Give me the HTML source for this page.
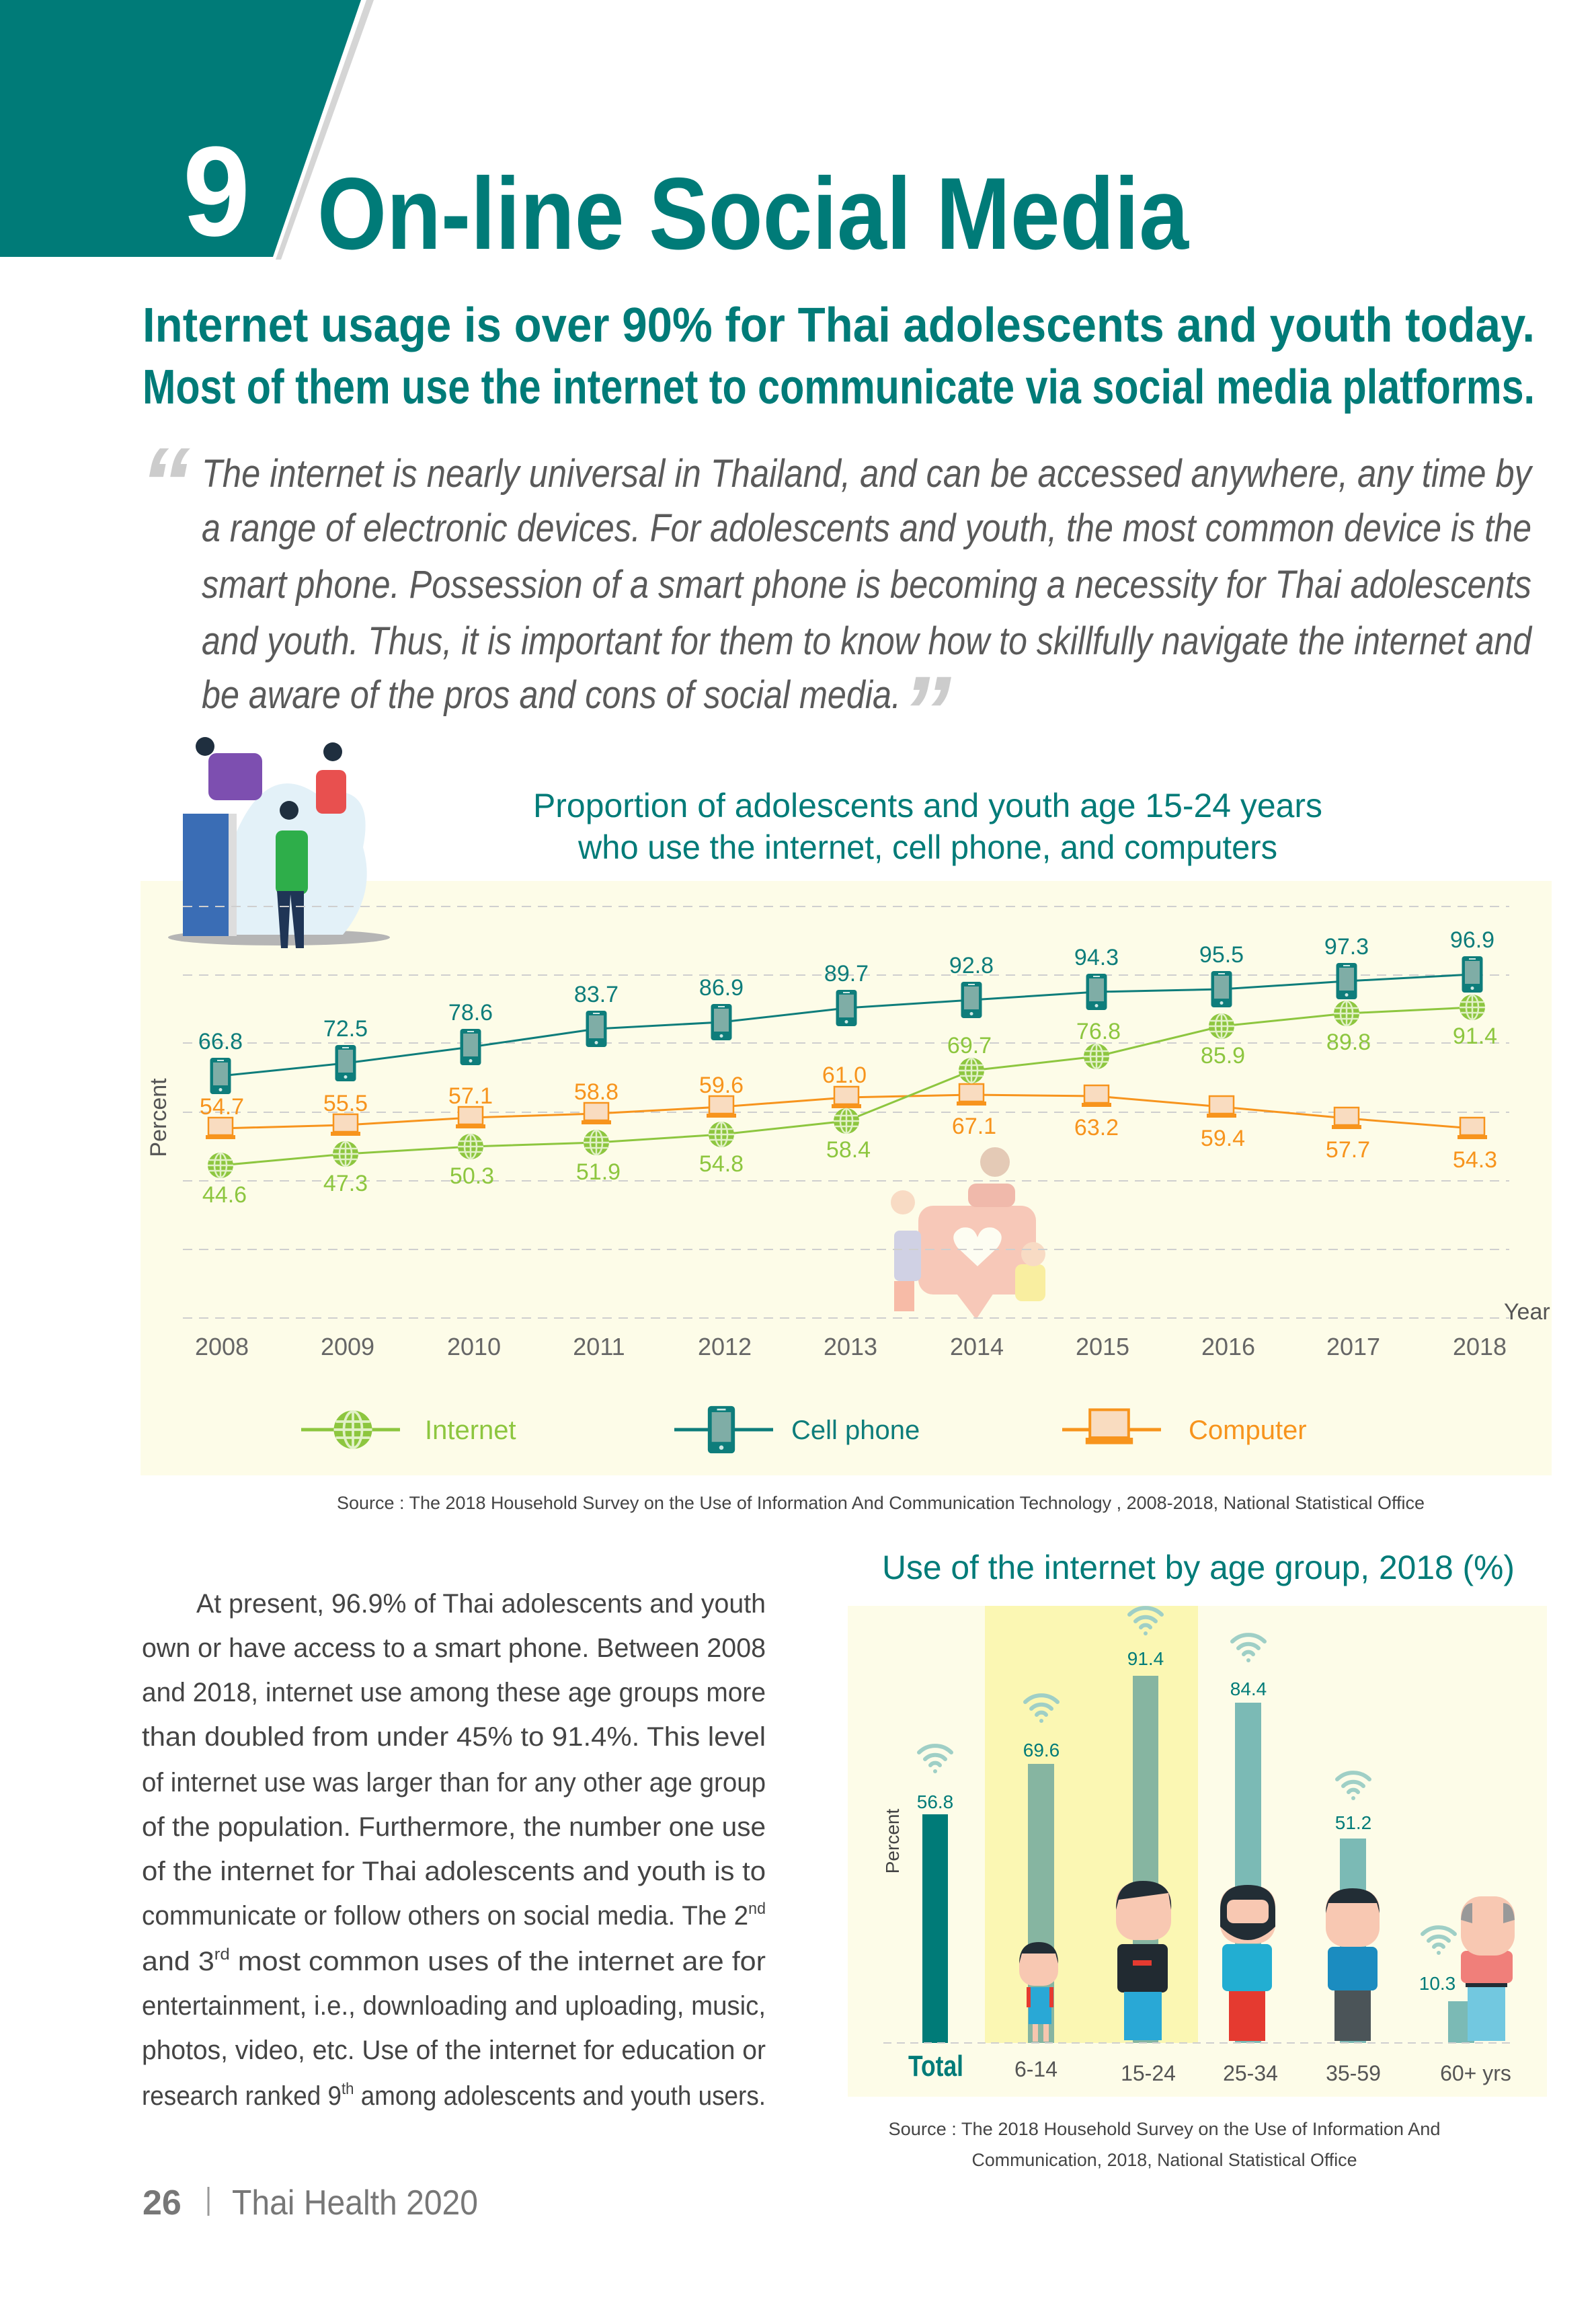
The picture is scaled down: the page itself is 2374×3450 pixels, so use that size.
<!DOCTYPE html>
<html><head><meta charset="utf-8"><style>
html,body{margin:0;padding:0;background:#fff;}
svg{display:block;}
text{font-family:"Liberation Sans",sans-serif;}
</style></head><body>
<svg width="2374" height="3450" viewBox="0 0 2374 3450" xmlns="http://www.w3.org/2000/svg">
<defs>
<g id="phone"><rect x="-15.5" y="-27" width="31" height="54" rx="4" fill="#0e7d7b"/><rect x="-11" y="-20" width="22" height="34" fill="#7fada6"/><circle cx="0" cy="20.5" r="2.5" fill="#cfe8e4"/><rect x="-5" y="-24" width="10" height="2" fill="#cfe8e4"/></g>
<g id="comp"><rect x="-18" y="-16" width="36" height="26" fill="#f9dcc0" stroke="#f7941d" stroke-width="2.5"/><rect x="-22" y="10" width="44" height="6" fill="#f7941d"/></g>
<g id="globe"><circle r="19" fill="#8dc63f"/><ellipse rx="9" ry="18" fill="none" stroke="#e2f1c8" stroke-width="2.5"/><line x1="0" y1="-19" x2="0" y2="19" stroke="#e2f1c8" stroke-width="2.5"/><line x1="-17" y1="-8" x2="17" y2="-8" stroke="#e2f1c8" stroke-width="2.5"/><line x1="-19" y1="0" x2="19" y2="0" stroke="#e2f1c8" stroke-width="2.5"/><line x1="-17" y1="8" x2="17" y2="8" stroke="#e2f1c8" stroke-width="2.5"/></g>
<g id="wifi" fill="none" stroke="#9fcfc6" stroke-width="6" stroke-linecap="round"><path d="M-24,-14 A34,34 0 0 1 24,-14"/><path d="M-15,-4 A21,21 0 0 1 15,-4"/><path d="M-7,5 A9,9 0 0 1 7,5"/><circle cx="0" cy="14" r="3" fill="#9fcfc6" stroke="none"/></g>
</defs>

<!-- header -->
<polygon points="545,0 556,0 418,386 410,386" fill="#d5d5d5"/>
<polygon points="0,0 537,0 406,382 0,382" fill="#007b78"/>
<text x="272" y="350" font-size="190" fill="#fff" font-weight="bold" textLength="100" lengthAdjust="spacingAndGlyphs">9</text>
<text x="472" y="370" font-size="152" fill="#007b78" font-weight="bold" textLength="1296" lengthAdjust="spacingAndGlyphs">On-line Social Media</text>

<text x="212" y="508" font-size="72" fill="#007b78" font-weight="bold" textLength="2071" lengthAdjust="spacingAndGlyphs">Internet usage is over 90% for Thai adolescents and youth today.</text>
<text x="212" y="600" font-size="72" fill="#007b78" font-weight="bold" textLength="2071" lengthAdjust="spacingAndGlyphs">Most of them use the internet to communicate via social media platforms.</text>

<text x="208" y="770" font-size="150" fill="#cccccc" font-style="italic" font-weight="bold">“</text>
<g font-size="58" fill="#5a5a5a" font-style="italic">
<text x="300" y="724" textLength="1978" lengthAdjust="spacingAndGlyphs">The internet is nearly universal in Thailand, and can be accessed anywhere, any time by</text>
<text x="300" y="805" textLength="1978" lengthAdjust="spacingAndGlyphs">a range of electronic devices. For adolescents and youth, the most common device is the</text>
<text x="300" y="889" textLength="1978" lengthAdjust="spacingAndGlyphs">smart phone. Possession of a smart phone is becoming a necessity for Thai adolescents</text>
<text x="300" y="973" textLength="1978" lengthAdjust="spacingAndGlyphs">and youth. Thus, it is important for them to know how to skillfully navigate the internet and</text>
<text x="300" y="1053" textLength="1040" lengthAdjust="spacingAndGlyphs">be aware of the pros and cons of social media.</text>
</g>
<text x="1340" y="1110" font-size="150" fill="#cccccc" font-style="italic" font-weight="bold">”</text>

<!-- line chart panel -->
<rect x="209" y="1310" width="2099" height="884" fill="#fdfce8"/>
<!-- illustration top-left -->
<ellipse cx="415" cy="1394" rx="165" ry="12" fill="#b5b5b5"/>
<path d="M330,1300 Q380,1120 470,1180 Q560,1160 540,1260 Q560,1330 510,1390 L330,1390 Z" fill="#e3f1f8"/>
<rect x="272" y="1210" width="68" height="182" fill="#3a6db5"/>
<rect x="340" y="1210" width="12" height="182" fill="#dddddd"/>
<rect x="410" y="1235" width="48" height="95" fill="#2eae4a" rx="10"/>
<path d="M412,1325 L418,1410 L428,1410 L432,1330 L440,1410 L452,1410 L452,1325 Z" fill="#1f3556"/>
<circle cx="430" cy="1205" r="14" fill="#1f2f3f"/>
<rect x="310" y="1120" width="80" height="70" fill="#7d4fb0" rx="12"/>
<circle cx="305" cy="1110" r="14" fill="#1f2f3f"/>
<rect x="470" y="1145" width="45" height="65" fill="#e8504f" rx="10"/>
<circle cx="495" cy="1118" r="14" fill="#1f2f3f"/>

<!-- heart illustration faded -->
<g opacity="0.45">
<rect x="1366" y="1793" width="175" height="132" rx="22" fill="#f08a80"/>
<polygon points="1420,1920 1480,1920 1452,1962" fill="#f08a80"/>
<path d="M1454,1883 L1424,1855 Q1410,1835 1430,1826 Q1448,1822 1454,1840 Q1460,1822 1478,1826 Q1498,1835 1484,1855 Z" fill="#fff"/>
<rect x="1330" y="1830" width="40" height="75" fill="#9a9fe0" rx="8"/>
<circle cx="1343" cy="1788" r="18" fill="#f3b49a"/>
<rect x="1330" y="1905" width="30" height="45" fill="#f06e5a"/>
<rect x="1510" y="1880" width="45" height="55" fill="#f6de4b" rx="10"/>
<circle cx="1537" cy="1865" r="18" fill="#f3b49a"/>
<circle cx="1480" cy="1728" r="22" fill="#c78e7a"/>
<rect x="1440" y="1760" width="70" height="35" fill="#e26a62" rx="12"/>
</g>

<!-- gridlines -->
<g stroke="#cfcfcf" stroke-width="2" stroke-dasharray="14,10">
<line x1="272" y1="1348" x2="2245" y2="1348"/>
<line x1="272" y1="1450" x2="2245" y2="1450"/>
<line x1="272" y1="1551" x2="2245" y2="1551"/>
<line x1="272" y1="1654" x2="2245" y2="1654"/>
<line x1="272" y1="1756" x2="2245" y2="1756"/>
<line x1="272" y1="1858" x2="2245" y2="1858"/>
<line x1="272" y1="1960" x2="2245" y2="1960"/>
</g>

<text x="1380" y="1215" font-size="50" fill="#007b78" text-anchor="middle" textLength="1174" lengthAdjust="spacingAndGlyphs">Proportion of adolescents and youth age 15-24 years</text>
<text x="1380" y="1277" font-size="50" fill="#007b78" text-anchor="middle" textLength="1040" lengthAdjust="spacingAndGlyphs">who use the internet, cell phone, and computers</text>

<text transform="translate(247,1662) rotate(-90)" font-size="34" fill="#555" text-anchor="middle">Percent</text>
<text x="2237" y="1962" font-size="34" fill="#555">Year</text>

<!-- series lines -->
<polyline fill="none" stroke="#f7941d" stroke-width="3" points="328,1678 514,1673 700,1662 887,1656 1073,1646 1259,1632 1445,1628 1631,1630 1817,1646 2003,1663 2190,1678"/>
<polyline fill="none" stroke="#8dc63f" stroke-width="3" points="328,1733 514,1716 700,1705 887,1699 1073,1687 1259,1667 1445,1592 1631,1571 1817,1526 2003,1507 2190,1498"/>
<polyline fill="none" stroke="#0e7d7b" stroke-width="3" points="328,1600 514,1581 700,1557 887,1530 1073,1520 1259,1499 1445,1487 1631,1475 1817,1471 2003,1459 2190,1449"/>

<!-- markers -->
<use href="#comp" x="328" y="1678"/><use href="#comp" x="514" y="1673"/><use href="#comp" x="700" y="1662"/><use href="#comp" x="887" y="1656"/><use href="#comp" x="1073" y="1646"/><use href="#comp" x="1259" y="1632"/><use href="#comp" x="1445" y="1628"/><use href="#comp" x="1631" y="1630"/><use href="#comp" x="1817" y="1646"/><use href="#comp" x="2003" y="1663"/><use href="#comp" x="2190" y="1678"/>
<use href="#globe" x="328" y="1733"/><use href="#globe" x="514" y="1716"/><use href="#globe" x="700" y="1705"/><use href="#globe" x="887" y="1699"/><use href="#globe" x="1073" y="1687"/><use href="#globe" x="1259" y="1667"/><use href="#globe" x="1445" y="1592"/><use href="#globe" x="1631" y="1571"/><use href="#globe" x="1817" y="1526"/><use href="#globe" x="2003" y="1507"/><use href="#globe" x="2190" y="1498"/>
<use href="#phone" x="328" y="1600"/><use href="#phone" x="514" y="1581"/><use href="#phone" x="700" y="1557"/><use href="#phone" x="887" y="1530"/><use href="#phone" x="1073" y="1520"/><use href="#phone" x="1259" y="1499"/><use href="#phone" x="1445" y="1487"/><use href="#phone" x="1631" y="1475"/><use href="#phone" x="1817" y="1471"/><use href="#phone" x="2003" y="1459"/><use href="#phone" x="2190" y="1449"/>

<!-- labels -->
<g font-size="34" fill="#0e7d7b" text-anchor="middle">
<text x="328" y="1560">66.8</text><text x="514" y="1541">72.5</text><text x="700" y="1517">78.6</text><text x="887" y="1490">83.7</text><text x="1073" y="1480">86.9</text><text x="1259" y="1459">89.7</text><text x="1445" y="1447">92.8</text><text x="1631" y="1435">94.3</text><text x="1817" y="1431">95.5</text><text x="2003" y="1419">97.3</text><text x="2190" y="1409">96.9</text>
</g>
<g font-size="34" fill="#f7941d" text-anchor="middle">
<text x="330" y="1657">54.7</text><text x="514" y="1652">55.5</text><text x="700" y="1641">57.1</text><text x="887" y="1635">58.8</text><text x="1073" y="1625">59.6</text><text x="1256" y="1610">61.0</text>
<text x="1449" y="1686">67.1</text><text x="1631" y="1688">63.2</text><text x="1819" y="1704">59.4</text><text x="2005" y="1721">57.7</text><text x="2194" y="1736">54.3</text>
</g>
<g font-size="34" fill="#8dc63f" text-anchor="middle">
<text x="334" y="1788">44.6</text><text x="514" y="1771">47.3</text><text x="702" y="1760">50.3</text><text x="890" y="1754">51.9</text><text x="1073" y="1742">54.8</text><text x="1262" y="1721">58.4</text>
<text x="1442" y="1566">69.7</text><text x="1634" y="1545">76.8</text><text x="1819" y="1581">85.9</text><text x="2006" y="1561">89.8</text><text x="2194" y="1552">91.4</text>
</g>
<g font-size="36" fill="#666" text-anchor="middle">
<text x="330" y="2015">2008</text><text x="517" y="2015">2009</text><text x="705" y="2015">2010</text><text x="891" y="2015">2011</text><text x="1078" y="2015">2012</text><text x="1265" y="2015">2013</text><text x="1453" y="2015">2014</text><text x="1640" y="2015">2015</text><text x="1827" y="2015">2016</text><text x="2013" y="2015">2017</text><text x="2201" y="2015">2018</text>
</g>

<!-- legend -->
<line x1="448" y1="2126" x2="595" y2="2126" stroke="#8dc63f" stroke-width="5"/>
<g transform="translate(525,2126) scale(1.5)"><use href="#globe"/></g>
<text x="632" y="2140" font-size="40" fill="#8dc63f">Internet</text>
<line x1="1003" y1="2126" x2="1150" y2="2126" stroke="#0e7d7b" stroke-width="5"/>
<g transform="translate(1073,2126) scale(1.3)"><use href="#phone"/></g>
<text x="1177" y="2140" font-size="40" fill="#0e7d7b">Cell phone</text>
<line x1="1580" y1="2126" x2="1727" y2="2126" stroke="#f7941d" stroke-width="5"/>
<g transform="translate(1650,2122) scale(1.6)"><use href="#comp"/></g>
<text x="1768" y="2140" font-size="40" fill="#f7941d">Computer</text>

<text x="501" y="2244" font-size="27" fill="#444" textLength="1618" lengthAdjust="spacingAndGlyphs">Source : The 2018 Household Survey on the Use of Information And Communication Technology , 2008-2018, National Statistical Office</text>

<!-- left paragraph -->
<g font-size="40" fill="#444">
<text x="292" y="2398" textLength="847" lengthAdjust="spacingAndGlyphs">At present, 96.9% of Thai adolescents and youth</text>
<text x="211" y="2464" textLength="928" lengthAdjust="spacingAndGlyphs">own or have access to a smart phone. Between 2008</text>
<text x="211" y="2530" textLength="928" lengthAdjust="spacingAndGlyphs">and 2018, internet use among these age groups more</text>
<text x="211" y="2596" textLength="928" lengthAdjust="spacingAndGlyphs">than doubled from under 45% to 91.4%. This level</text>
<text x="211" y="2664" textLength="928" lengthAdjust="spacingAndGlyphs">of internet use was larger than for any other age group</text>
<text x="211" y="2730" textLength="928" lengthAdjust="spacingAndGlyphs">of the population. Furthermore, the number one use</text>
<text x="211" y="2796" textLength="928" lengthAdjust="spacingAndGlyphs">of the internet for Thai adolescents and youth is to</text>
<text x="211" y="2862" textLength="928" lengthAdjust="spacingAndGlyphs">communicate or follow others on social media. The 2<tspan font-size="24" dy="-16">nd</tspan></text>
<text x="211" y="2930" textLength="928" lengthAdjust="spacingAndGlyphs">and 3<tspan font-size="24" dy="-16">rd</tspan><tspan dy="16"> most common uses of the internet are for</tspan></text>
<text x="211" y="2996" textLength="928" lengthAdjust="spacingAndGlyphs">entertainment, i.e., downloading and uploading, music,</text>
<text x="211" y="3062" textLength="928" lengthAdjust="spacingAndGlyphs">photos, video, etc. Use of the internet for education or</text>
<text x="211" y="3130" textLength="928" lengthAdjust="spacingAndGlyphs">research ranked 9<tspan font-size="24" dy="-16">th</tspan><tspan dy="16"> among adolescents and youth users.</tspan></text>
</g>

<!-- bar chart -->
<text x="1312" y="2348" font-size="50" fill="#007b78" textLength="941" lengthAdjust="spacingAndGlyphs">Use of the internet by age group, 2018 (%)</text>
<rect x="1261" y="2388" width="1040" height="730" fill="#fdfce8"/>
<rect x="1465" y="2388" width="317" height="650" fill="#fbf7b3"/>
<text transform="translate(1337,2738) rotate(-90)" font-size="28" fill="#444" text-anchor="middle">Percent</text>

<rect x="1372" y="2698" width="38" height="340" fill="#007b78"/>
<rect x="1529" y="2623" width="39" height="415" fill="#86b5a1"/>
<rect x="1685" y="2492" width="38" height="546" fill="#86b5a1"/>
<rect x="1837" y="2532" width="39" height="506" fill="#7bbab5"/>
<rect x="1993" y="2734" width="39" height="304" fill="#7bbab5"/>
<rect x="2154" y="2976" width="39" height="62" fill="#7bbab5"/>

<use href="#wifi" x="1391" y="2620"/><use href="#wifi" x="1549" y="2545"/><use href="#wifi" x="1704" y="2415"/><use href="#wifi" x="1857" y="2455"/><use href="#wifi" x="2013" y="2660"/><use href="#wifi" x="2140" y="2890"/>
<g font-size="28" fill="#007b78" text-anchor="middle">
<text x="1391" y="2689">56.8</text><text x="1549" y="2612">69.6</text><text x="1704" y="2476">91.4</text><text x="1857" y="2521">84.4</text><text x="2013" y="2720">51.2</text><text x="2138" y="2959">10.3</text>
</g>

<!-- people -->
<g>
<!-- kid -->
<rect x="1530" y="2955" width="34" height="55" fill="#29a8d6"/><rect x="1527" y="2955" width="6" height="30" fill="#e53a30"/><rect x="1561" y="2955" width="6" height="30" fill="#e53a30"/>
<rect x="1536" y="3010" width="8" height="26" fill="#f6c6ae"/><rect x="1552" y="3010" width="8" height="26" fill="#f6c6ae"/>
<rect x="1516" y="2895" width="58" height="58" rx="22" fill="#f8c8b2"/><path d="M1516,2920 Q1516,2888 1545,2888 Q1574,2888 1574,2920 L1570,2905 L1520,2905 Z" fill="#222d35"/>
<!-- 15-24 -->
<rect x="1662" y="2891" width="75" height="72" fill="#212a31" rx="8"/><rect x="1685" y="2915" width="28" height="8" fill="#e53a30"/>
<rect x="1672" y="2962" width="56" height="72" fill="#29a8d6"/>
<rect x="1660" y="2800" width="82" height="85" rx="28" fill="#f8c8b2"/><path d="M1660,2840 Q1660,2797 1700,2797 Q1745,2797 1742,2840 L1738,2815 L1664,2825 Z" fill="#222d35"/>
<!-- 25-34 -->
<rect x="1818" y="2891" width="74" height="70" fill="#22aed2" rx="8"/><rect x="1828" y="2961" width="54" height="74" fill="#e53a30"/>
<rect x="1815" y="2805" width="82" height="85" rx="28" fill="#f8c8b2"/><path d="M1815,2840 Q1815,2803 1856,2803 Q1897,2803 1897,2840 L1897,2865 Q1856,2905 1815,2865 Z" fill="#222d35"/><rect x="1825" y="2825" width="62" height="35" rx="10" fill="#f8c8b2"/>
<!-- 35-59 -->
<rect x="1975" y="2895" width="74" height="65" fill="#1b8cc0" rx="8"/><rect x="1985" y="2960" width="54" height="75" fill="#4b5458"/>
<rect x="1972" y="2810" width="80" height="85" rx="28" fill="#f8c8b2"/><path d="M1972,2845 Q1972,2808 2012,2808 Q2052,2808 2052,2845 L2048,2830 L1976,2830 Z" fill="#222d35"/>
<!-- 60+ -->
<rect x="2173" y="2901" width="77" height="48" fill="#f07f7a" rx="8"/><rect x="2180" y="2949" width="62" height="6" fill="#222d35"/><rect x="2183" y="2955" width="56" height="80" fill="#72c8e0"/>
<rect x="2173" y="2820" width="80" height="88" rx="30" fill="#f8c8b2"/><path d="M2173,2855 Q2175,2830 2190,2830 L2190,2860 Z" fill="#999"/><path d="M2253,2855 Q2251,2830 2236,2830 L2236,2860 Z" fill="#999"/>
</g>

<line x1="1314" y1="3038" x2="2249" y2="3038" stroke="#cfcfcf" stroke-width="2" stroke-dasharray="12,8"/>
<text x="1392" y="3087" font-size="44" fill="#007b78" text-anchor="middle" font-weight="bold" textLength="82" lengthAdjust="spacingAndGlyphs">Total</text>
<g font-size="32" fill="#555" text-anchor="middle">
<text x="1541" y="3088">6-14</text><text x="1708" y="3094">15-24</text><text x="1860" y="3094">25-34</text><text x="2013" y="3094">35-59</text><text x="2195" y="3094">60+ yrs</text>
</g>

<text x="1732" y="3175" font-size="27" fill="#444" text-anchor="middle" textLength="821" lengthAdjust="spacingAndGlyphs">Source : The 2018 Household Survey on the Use of Information And</text>
<text x="1732" y="3221" font-size="27" fill="#444" text-anchor="middle" textLength="573" lengthAdjust="spacingAndGlyphs">Communication, 2018, National Statistical Office</text>

<!-- footer -->
<text x="212" y="3293" font-size="52" fill="#777" font-weight="bold">26</text>
<line x1="310" y1="3252" x2="310" y2="3295" stroke="#999" stroke-width="3"/>
<text x="345" y="3293" font-size="52" fill="#777" textLength="366" lengthAdjust="spacingAndGlyphs">Thai Health 2020</text>
</svg>
</body></html>
